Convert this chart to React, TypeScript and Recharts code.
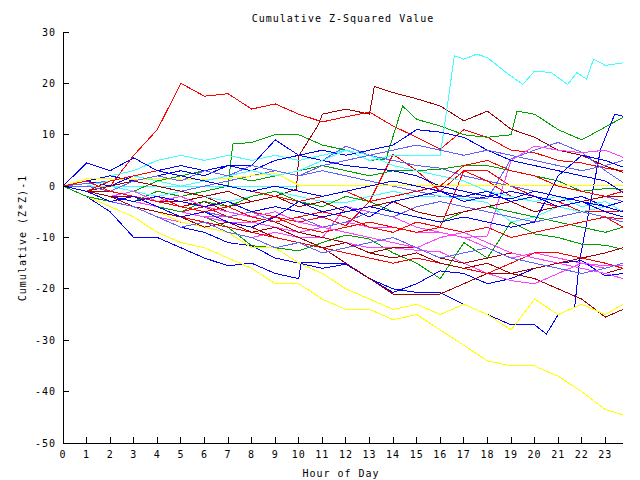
import { LineChart, Line, XAxis, YAxis } from "recharts";

// gnuplot-ish look: small mono font, black frame, mirrored inward ticks
const FONT = "'DejaVu Sans Mono', 'Liberation Mono', monospace";

const HOURS = [0, 1, 2, 3, 4, 5, 6, 7, 8, 9, 10, 11, 12, 13, 14, 15, 16, 17, 18, 19, 20, 21, 22, 23, 23.75];
const HOUR_TICKS = [0, 1, 2, 3, 4, 5, 6, 7, 8, 9, 10, 11, 12, 13, 14, 15, 16, 17, 18, 19, 20, 21, 22, 23];
const VALUE_TICKS = [-50, -40, -30, -20, -10, 0, 10, 20, 30];

const RED = "#ff0000";
const GREEN = "#00a000";
const BLUE = "#0000ff";
const MAGENTA = "#ff40ff";
const CYAN = "#40ffff";
const DARKRED = "#a00000";
const YELLOW = "#ffff00";
const LAVENDER = "#6060ff";

// most series: one value per hour (last one at 23.75)
const redPeak = [0, 1, 0, 6, 11, 20, 17.5, 18, 15, 16, 14, 12.5, 13.5, 14.4, 11.7, 9.5, 7.2, 11, 9.5, 7, 6.5, 5, 4.5, 3.5, 3];
// series with sharp jumps get their own hours
const greenClimbHours = [0, 1, 2, 3, 4, 5, 6, 7, 7.2, 8, 9, 10, 11, 12, 13, 13.7, 14.4, 15, 16, 17, 18, 19, 19.25, 20, 21, 22, 23, 23.75];
const greenClimb = [0, -1, -2, -3, -1, -2, -1, 0, 8.2, 8.5, 10, 10, 8, 7, 5, 5.3, 15.6, 13, 11.7, 10, 9.5, 10, 14.6, 14, 11, 9, 11.5, 13.4];
const blueDiveHours = [0, 1, 2, 3, 4, 5, 6, 7, 8, 9, 10, 10.1, 11, 12, 13, 14, 15, 16, 17, 18, 19, 20, 20.5, 21, 21.7, 21.9, 22.8, 23.4, 23.75];
const blueDive = [0, -2, -5, -10, -10, -12, -14, -15.5, -15, -17, -18, -14.8, -15, -15, -18, -20, -20.7, -20.7, -23, -25, -27, -27, -28.8, -25, -23.6, -14.8, 7.2, 14, 13.6];
const magentaStep = [0, -2, -3, -4, -6, -7, -8, -9, -10, -9, -10, -10, -4, -5, -6, -8, -9, -10, -12, -14, -13, -14, -15, -16, -15];
const cyanFlat = [0, 0, 0, 0, 0, 0, 0, 0, 0, 0, 0, null, null, null, null, null, null, null, null, null, null, null, null, null, null];
const darkRedClimbHours = [0, 1, 2, 3, 4, 5, 6, 7, 8, 9, 9.9, 10, 10.8, 11, 12, 13, 13.2, 14, 15, 16, 17, 18, 19, 20, 21, 22, 23, 23.75];
const darkRedClimb = [0, -1, -2, -2, -3, -3, -2, -4, -3, -2, -0.6, 5.9, 11.7, 14, 15, 14, 19.4, 18.2, 17, 15.6, 12.7, 14.6, 11.1, 9.5, 7, 6, 3.9, 2.7];
const yellowLow = [0, -2, -4, -6, -9, -11, -12, -14, -16, -19, -19, -22, -24, -24, -26, -25, -28, -31, -34, -35, -35, -37, -40, -43.5, -44.5];
const lavenderA = [0, 1, 2, 1, 0, -1, 0, 1, 2, 3, 2, 3, 2, 1, 0, -1, -2, -2, -2.5, 5.3, 7, 8.5, 6.6, 3, 0.7];
const redJump = [0, -1, -2, -3, -2, -4, -5, -6, -5, -6, -7, -6, -7.7, -3, 6.2, 3, -1, 3, 3, 0, -2, -3, -5, -5, -4.8];
const greenLow = [0, -1, -2, -3, -4, -5, -6, -8, -11.6, -12, -12.6, -11, -9.5, -10.3, -13, -15, -18, -11, -14, -7, -9.3, -10, -11.3, -11.5, -12.3];
const blueLow = [0, -1, -3, -4, -6, -8, -9, -11, -11.6, -14, -15, -16, -15.2, -18, -20.7, -19, -16.5, -17, -19, -18, -16, -15, -14.5, -17.5, -17];
const magentaJump = [0, -1, -2, -3, -4, -5, -6, -6, -7, -8, -9, -8, -7, -8, -8, -9, -9, -10, -9.7, 5, 7.8, 7, 6.5, 7, 5.6];
const cyanHighHours = [0, 1, 2, 3, 4, 5, 6, 7, 8, 9, 10, 11, 12, 13, 14, 15, 16, 16.6, 17, 17.55, 18, 18.8, 19.5, 20, 20.7, 21.4, 21.8, 22.2, 22.5, 23, 23.75];
const cyanHigh = [0, 1, 2, 3, 5, 6, 5, 6, 5, 6, 5, 6, 7, 5, 6, 6, 6, 25.4, 24.7, 25.7, 25, 22.1, 19.8, 22.4, 22.1, 19.8, 22.1, 20.8, 24.7, 23.5, 24];
const darkRedLow = [0, -1, -2, -3, -4, -5, -6, -7, -8, -10, -11, -12, -15, -18, -21, -21, -21, -19, -17, -17, -18, -20, -22, -25.5, -24];
const yellowMid = [0, -1, -3, -4, -5, -7, -8, -9, -12, -12, -15, -17, -20, -22, -24, -23, -25, -23, -25, -28, -22, -25, -23, -25, -23];
const lavenderB = [0, 0.5, 1, 2, 1, 0, 1, 2, 1, 2, 3, 5, 7.8, 6, 5, 4, 3.5, 2, 1, 0, -1, -2, -3, -2, -3];
const redC = [0, -1, -2, -3, -4, -5, -4, -6, -7, -6, -8, -9, -8, -7, -8, -9, -8, 3, 1, -2, -3, -4, -5, -6, -6.4];
const greenMid = [0, 1, 0, -1, 1, 2, 3, 2, 1, 2, 3, 4, 3, 2, 3, 3, 3.3, 4, 4, 3, 2, 1, -1, -0.5, -0.6];
const bluePeak = [0, 1, 2, 1, 2, 3, 2, 4, 4, 9, 6, 5, 4, 3.5, 3, 2, 0, -1, -2, -1, -2, -3, -2, -4, -3];
const magentaLow = [0, -1, -2, -3, -4, -5, -6, -7, -7, -8, -9, -10, -11, -12, -12, -12.5, -12.8, -15, -17, -18.4, -19, -17, -15, -15.5, -15.5];
const cyanMid = [0, -1, 0, -1, -2, -1, -2, -3, -2, -1, -2, -3, -3.2, -2, -1, -2, -1.9, -2.5, -3.2, -7, -6, -4, -5, -4, -5];
const darkRedMid = [0, -1, -1, -2, -3, -4, -3, -5, -6, -7, -9, -10, -11, -13, -12, -12, -14, -15, -14, -13, -14, -15, -16, -17, -16];
const yellowFlat = [0, 1.4, 1.4, 1.2, 1.5, 1.2, 1.3, 1.5, 2, 2.5, 0.2, 0.2, 0.2, 0.2, 0.2, 0.2, 0.2, 0.2, 0.2, 0.2, 0.2, 0.2, 0.2, 0.2, 0.2];
const lavenderC = [0, -1, -2, -1, -3, -4, -5, -6, -5, -7, -6, -8, -7, -5, -6, -4, -3, -4, -5, -6, -7, -6, -5, -6, -7];
const redD = [0, -1, -3, -4, -5, -6, -7, -8, -9, -10, -11, -12, -13, -14, -15, -14, -15, -16, -17, -15, -13, -13, -14, -15, -16];
const greenD = [0, -2, -3, -2, -4, -5, -3, -4, -2, -1, -3, -4, -2, -3, -5, -6, -7, -5, -4, -5, -6, -7, -8, -9, -8];
const blueHigh = [0, 1, 0, 2, 3, 4, 3, 4, 3, 5, 6, 7, 6, 7, 8, 11, 10.5, 9.5, 7, 5, 4, 3, 2, 1, -1.2];
const magentaD = [0, -1, -2, -1, -3, -2, -4, -5, -6, -5, -7, -8, -9, -10, -11, -12, -10, -9, -11, -13, -14, -15, -16, -17, -18];
const cyanD = [0, 0, 1, 2, 1, 0, 1, 2, 3, 2, 3, 5, 7, 6, 4, 3, 2, 1, -1, -2, -3, -2, -4, -3, -5];
const darkRedD = [0, -1, 0, 1, 0, -1, -2, -1, -3, -2, -4, -3, -5, -4, -3, -5, -6, -5, -4, -3, -5, -4, -3, -2, -2];
const lavenderD = [0, 0, -1, 1, 2, 1, 3, 2, 4, 3, 2, 4, 5, 6, 7, 8, 7, 6, 7, 6, 5, 4, 3, 4, 5];
const redE = [0, 1, -1, -2, -3, -4, -5, -4, -6, -7, -6, -5, -6, -8, -9, -7, -8, -9, -8, -10, -9, -8, -7, -6, -8];
const blueRise = [0, -1, -2, -3, -2, -3, -4, -3, -5, -4, -5, -6, -5, -4, -5, -6, -7, -6, -7, -8, -7, 2, 6, 5, 3.7];
const darkRedE = [0, -1, -2, -4, -5, -6, -8, -7, -9, -8, -10, -12, -11, -13, -14, -13, -15, -16, -15, -17, -16, -15, -14, -13, -12];
const lavenderE = [0, -1, -3, -4, -6, -8, -7, -9, -10, -12, -11, -13, -12, -11, -10, -12, -14, -13, -12, -14, -15, -16, -17, -16, -15];
const redF = [0, -1, 1, 2, 3, 2, 1, 0, -1, -2, -3, -2, -1, -3, -2, -1, 0, 4, 5, 3, 2, 0, -1, -2, -1];
const blueEarly = [0, 4.5, 3, 5.5, 3, 2, 1, 0, -1, 0, -1, -2, -1, 0, 1, 0, -1, -2, -1, -3, -2, -4, -3, -4, -5];
const blueG = [0, -1, -3, -2, -4, -6, -5, -7, -8, -6, -3, -5, -4, -6, -3, -2, -1, -3, -2, -2.5, -1, -2, -3, -5, -6];

const SERIES: { values: (number | null)[]; color: string; hours?: number[] }[] = [
  { values: redPeak, color: RED },
  { values: greenClimb, color: GREEN, hours: greenClimbHours },
  { values: blueDive, color: BLUE, hours: blueDiveHours },
  { values: magentaStep, color: MAGENTA },
  { values: cyanFlat, color: CYAN },
  { values: darkRedClimb, color: DARKRED, hours: darkRedClimbHours },
  { values: yellowLow, color: YELLOW },
  { values: lavenderA, color: LAVENDER },
  { values: redJump, color: RED },
  { values: greenLow, color: GREEN },
  { values: blueLow, color: BLUE },
  { values: magentaJump, color: MAGENTA },
  { values: cyanHigh, color: CYAN, hours: cyanHighHours },
  { values: darkRedLow, color: DARKRED },
  { values: yellowMid, color: YELLOW },
  { values: lavenderB, color: LAVENDER },
  { values: redC, color: RED },
  { values: greenMid, color: GREEN },
  { values: bluePeak, color: BLUE },
  { values: magentaLow, color: MAGENTA },
  { values: cyanMid, color: CYAN },
  { values: darkRedMid, color: DARKRED },
  { values: yellowFlat, color: YELLOW },
  { values: lavenderC, color: LAVENDER },
  { values: redD, color: RED },
  { values: greenD, color: GREEN },
  { values: blueHigh, color: BLUE },
  { values: magentaD, color: MAGENTA },
  { values: cyanD, color: CYAN },
  { values: darkRedD, color: DARKRED },
  { values: lavenderD, color: LAVENDER },
  { values: redE, color: RED },
  { values: blueRise, color: BLUE },
  { values: darkRedE, color: DARKRED },
  { values: lavenderE, color: LAVENDER },
  { values: redF, color: RED },
  { values: blueEarly, color: BLUE },
  { values: blueG, color: BLUE },
];

const tickStyle = { fill: "#000", fontSize: 10, fontFamily: FONT, letterSpacing: 1 };
const lineStyle = { stroke: "#000", strokeWidth: 1, shapeRendering: "crispEdges" };
const blank = () => "";

export default function App() {
  return (
    <div style={{ position: "absolute", left: 0, top: 0, width: 640, height: 480, background: "#fff" }}>
      <LineChart width={640} height={480} margin={{ top: 32, right: 17, bottom: 0, left: 0 }}>
        <XAxis
          xAxisId="b"
          dataKey="h"
          type="number"
          domain={[0, 23.75]}
          allowDataOverflow
          ticks={HOUR_TICKS}
          interval={0}
          height={37}
          tickSize={-6}
          tickMargin={14}
          tick={tickStyle}
          axisLine={lineStyle}
          tickLine={lineStyle}
        />
        <XAxis
          xAxisId="t"
          orientation="top"
          type="number"
          domain={[0, 23.75]}
          allowDataOverflow
          ticks={HOUR_TICKS}
          interval={0}
          height={0}
          tickSize={-6}
          tickFormatter={blank}
          axisLine={lineStyle}
          tickLine={lineStyle}
        />
        <YAxis
          yAxisId="l"
          type="number"
          domain={[-50, 30]}
          allowDataOverflow
          ticks={VALUE_TICKS}
          interval={0}
          width={63}
          tickSize={-6}
          tickMargin={13}
          tick={tickStyle}
          axisLine={lineStyle}
          tickLine={lineStyle}
        />
        <YAxis
          yAxisId="r"
          orientation="right"
          type="number"
          domain={[-50, 30]}
          allowDataOverflow
          ticks={VALUE_TICKS}
          interval={0}
          width={0}
          tickSize={-6}
          tickFormatter={blank}
          axisLine={lineStyle}
          tickLine={lineStyle}
        />
        {SERIES.map((s, i) => (
          <Line
            key={i}
            xAxisId="b"
            yAxisId="l"
            data={(s.hours ?? HOURS).map((h, j) => ({ h, v: s.values[j] }))}
            dataKey="v"
            type="linear"
            stroke={s.color}
            strokeWidth={1}
            shapeRendering="crispEdges"
            dot={false}
            activeDot={false}
            isAnimationActive={false}
          />
        ))}
      </LineChart>
      <svg
        width={640}
        height={480}
        style={{ position: "absolute", left: 0, top: 0, pointerEvents: "none" }}
        fontFamily={FONT}
        fontSize={10}
        letterSpacing={1}
      >
        <text x={343} y={22} textAnchor="middle" fill="#000">
          Cumulative Z-Squared Value
        </text>
        <text x={341} y={477} textAnchor="middle" fill="#000">
          Hour of Day
        </text>
        <text x={26} y={238} textAnchor="middle" fill="#000" transform="rotate(-90 26 238)">
          Cumulative (Z*Z)-1
        </text>
      </svg>
    </div>
  );
}
